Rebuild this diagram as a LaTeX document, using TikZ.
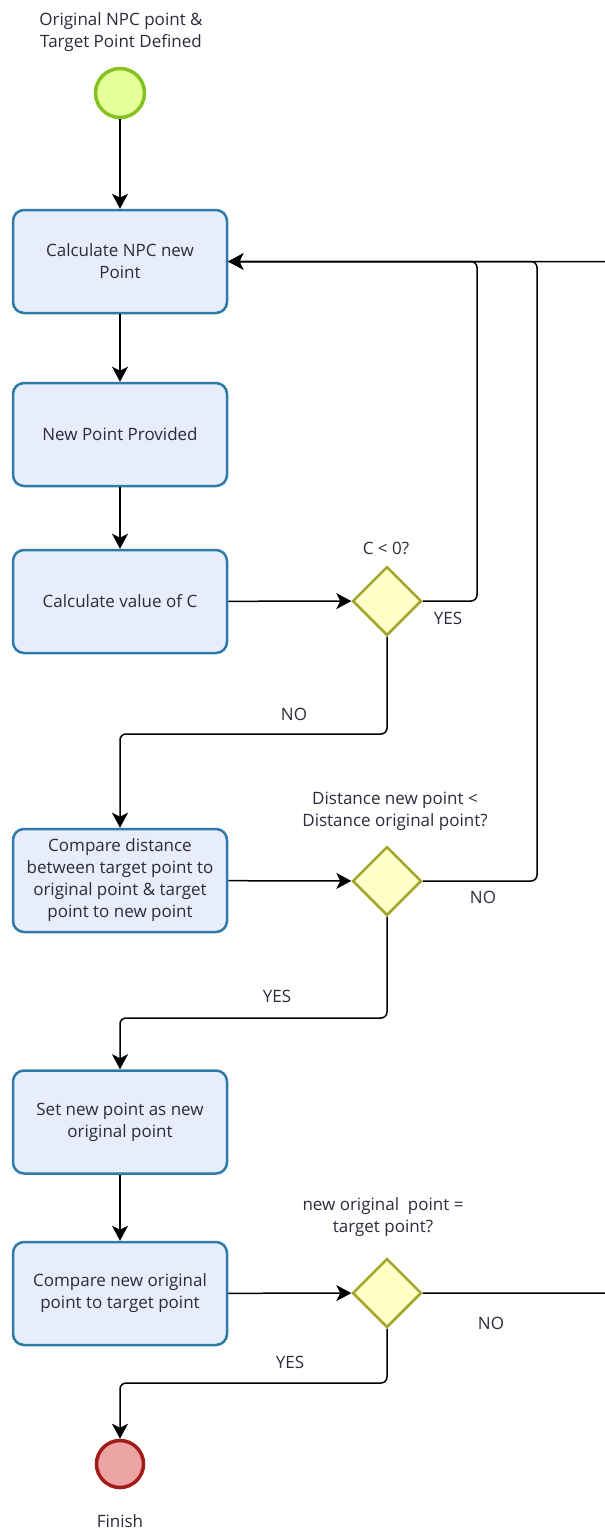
\documentclass[tikz,border=0pt]{standalone}
\usepackage{fontspec}
\setmainfont{Open Sans}
\usetikzlibrary{shapes.geometric,arrows.meta}
\definecolor{txt}{HTML}{2B2B3A}
\definecolor{boxline}{HTML}{2F7BA8}
\definecolor{boxfill}{HTML}{E8EDFB}
\definecolor{startline}{HTML}{86C21F}
\definecolor{startfill}{HTML}{E5FF9A}
\definecolor{endline}{HTML}{A11B1B}
\definecolor{endfill}{HTML}{EBA5A5}
\definecolor{gateline}{HTML}{A4A42A}
\definecolor{gatefill}{HTML}{FFFFC8}
\tikzset{
  lbl/.style={text=txt, font=\fontsize{17}{22}\selectfont, align=center, inner sep=0pt},
  task/.style={draw=boxline, fill=boxfill, line width=2.5pt, rounded corners=11pt,
    minimum width=214pt, minimum height=103pt, text=txt,
    font=\fontsize{17}{22}\selectfont, align=center, inner sep=0pt},
  gate/.style={draw=gateline, fill=gatefill, line width=2.5pt, diamond, aspect=1,
    minimum size=69pt, inner sep=0pt},
  startev/.style={circle, draw=startline, fill=startfill, line width=3.5pt, minimum size=49pt, inner sep=0pt},
  endev/.style={circle, draw=endline, fill=endfill, line width=3.5pt, minimum size=47pt, inner sep=0pt},
  flow/.style={draw=black, line width=1.5pt, rounded corners=6pt},
  arr/.style={flow, -{Stealth[length=15pt,width=16pt,inset=4pt]}},
}
\begin{document}
\begin{tikzpicture}[x=1pt,y=-1pt]
\useasboundingbox (0,0) rectangle (605,1529);
\clip (0,0) rectangle (605,1529);
% labels
\node[lbl] (tstart) at (121,32) {Original NPC point \&\\Target Point Defined};
\node[startev] (start) at (120,93) {};
\node[task] (b1) at (120,261.5) {Calculate NPC new\\Point};
\node[task] (b2) at (120,434.5) {New Point Provided};
\node[task] (b3) at (120,601.5) {Calculate value of C};
\node[gate] (d1) at (387,601) {};
\node[lbl] (td1) at (386,548) {C < 0?};
\node[task] (b4) at (120,880.5) {Compare distance\\between target point to\\original point \& target\\point to new point};
\node[gate] (d2) at (387,881) {};
\node[lbl] (td2) at (395,811) {Distance new point <\\Distance original point?};
\node[task] (b5) at (120,1122) {Set new point as new\\original point};
\node[task] (b6) at (120,1293.5) {Compare new original\\point to target point};
\node[gate] (d3) at (387,1293) {};
\node[lbl] (td3) at (383,1217) {new original\ \ point =\\target point?};
\node[endev] (fin) at (120,1464) {};
\node[lbl] (tfin) at (120,1521) {Finish};
% edge labels
\node[lbl] (yes1) at (448,618) {YES};
\node[lbl] (no1) at (294,714) {NO};
\node[lbl] (no2) at (483,897) {NO};
\node[lbl] (yes2) at (277,996) {YES};
\node[lbl] (no3) at (491,1323) {NO};
\node[lbl] (yes3) at (290,1362) {YES};
% coordinates
\coordinate (c1) at (477,601);
\coordinate (c2) at (537,881);
\coordinate (c3) at (614,1293);
\coordinate (t1) at (387,734);
\coordinate (t2) at (387,1018);
\coordinate (t3) at (387,1383);
% connectors
\draw[arr] (start) -- (b1);
\draw[arr] (b1) -- (b2);
\draw[arr] (b2) -- (b3);
\draw[arr] (b3) -- (d1);
\draw[arr] (d1.east) -- (c1) |- (b1.east);
\draw[arr] (d1.south) -- (t1) -| (b4.north);
\draw[arr] (b4) -- (d2);
\draw[arr] (d2.east) -- (c2) |- (b1.east);
\draw[arr] (d2.south) -- (t2) -| (b5.north);
\draw[arr] (b5) -- (b6);
\draw[arr] (b6) -- (d3);
\draw[arr] (d3.east) -- (c3) |- (b1.east);
\draw[arr] (d3.south) -- (t3) -| (fin.north);
\end{tikzpicture}
\end{document}
